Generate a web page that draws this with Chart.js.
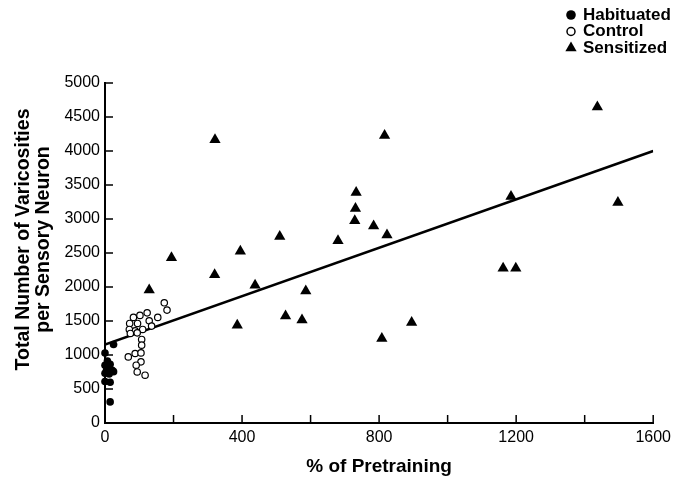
<!DOCTYPE html>
<html>
<head>
<meta charset="utf-8">
<script src="https://cdn.jsdelivr.net/npm/chart.js@4.4.0/dist/chart.umd.min.js"></script>
<style>
  body{margin:0;background:#fff;}
  #wrap{width:676px;height:478px;}
</style>
</head>
<body>
<div id="wrap"><canvas id="varChart"></canvas></div>
<script>
// ======================================
// DATA (% of pretraining vs varicosities)
// ======================================
const habitX = [0, 25, 7, 0, 15, 5, 21, 0, 12, 25, 0, 15, 15];
const habitY = [1030, 1155, 910, 850, 865, 790, 775, 730, 720, 755, 610, 600, 310];

const controlX = [173, 181, 154, 123, 102, 83, 72, 95, 129, 136, 110, 88, 71, 74, 94, 107, 107, 88, 105, 68, 105, 91, 94, 117];
const controlY = [1768, 1660, 1553, 1620, 1582, 1553, 1464, 1464, 1503, 1425, 1376, 1355, 1376, 1317, 1326, 1229, 1145, 1022, 1031, 972, 899, 850, 751, 703];

const sensX = [321, 816, 733, 731, 729, 784, 823, 680, 510, 395, 320, 438, 586, 386, 527, 575, 895, 808, 1437, 1185, 1497, 1162, 1199, 194, 129];
const sensY = [4165, 4228, 3388, 3153, 2976, 2898, 2765, 2681, 2741, 2525, 2181, 2024, 1940, 1439, 1572, 1513, 1479, 1243, 4646, 3330, 3241, 2275, 2275, 2431, 1955];

// regression line end points
const fitX = [0, 1600];
const fitY = [1155, 4000];

const xTicks = [0, 400, 800, 1200, 1600];

const FONT = "'Liberation Sans', Arial, Helvetica, sans-serif";
const TICK_LEN = 8;

function toPoints(xs, ys){
  return xs.map((v,i)=>({x:v, y:ys[i]}));
}

// ======================================
// PLUGINS
// ======================================
// tick marks pointing into the plot
const inwardTicks = {
  id:'inwardTicks',
  beforeDatasetsDraw(chart){
    const {ctx, chartArea:a, scales:{x, y}} = chart;
    ctx.save();
    ctx.strokeStyle = '#000';
    ctx.lineWidth = 1.5;
    ctx.beginPath();
    x.ticks.forEach(t=>{
      const px = x.getPixelForValue(t.value);
      ctx.moveTo(px, a.bottom);
      ctx.lineTo(px, a.bottom - TICK_LEN);
    });
    y.ticks.forEach(t=>{
      const py = y.getPixelForValue(t.value);
      ctx.moveTo(a.left, py);
      ctx.lineTo(a.left + TICK_LEN, py);
    });
    ctx.stroke();
    ctx.restore();
  }
};

// stacked legend in the top right corner
const cornerLegend = {
  id:'cornerLegend',
  afterDraw(chart){
    const ctx = chart.ctx;
    const items = chart.data.datasets.filter(d=>d.legend);
    ctx.save();
    ctx.font = 'bold 17px ' + FONT;
    ctx.textBaseline = 'middle';
    ctx.textAlign = 'left';
    items.forEach((d,i)=>{
      const cy = 15 + i*16.5;
      const cx = 571;
      ctx.fillStyle = d.backgroundColor;
      ctx.strokeStyle = d.borderColor;
      ctx.lineWidth = d.legendBorder;
      ctx.beginPath();
      if(d.pointStyle === 'triangle'){
        const r = 6.5;
        ctx.moveTo(cx, cy - r);
        ctx.lineTo(cx + r*0.866, cy + r*0.5);
        ctx.lineTo(cx - r*0.866, cy + r*0.5);
        ctx.closePath();
      } else {
        ctx.arc(cx, cy, d.legendRadius, 0, Math.PI*2);
      }
      ctx.fill();
      if(d.legendBorder) ctx.stroke();
      ctx.fillStyle = '#000';
      ctx.fillText(d.label, 583, cy);
    });
    ctx.restore();
  }
};

// ======================================
// CHART
// ======================================
const ctx = document.getElementById('varChart');

new Chart(ctx, {

  type:'scatter',

  data:{
    datasets:[
      {
        label:'Habituated',
        data:toPoints(habitX, habitY),
        pointStyle:'circle',
        pointRadius:3.8,
        backgroundColor:'#000',
        borderColor:'#000',
        borderWidth:0,
        legend:true,
        legendRadius:4.8,
        legendBorder:0,
        clip:false
      },
      {
        label:'Control',
        data:toPoints(controlX, controlY),
        pointStyle:'circle',
        pointRadius:3.2,
        backgroundColor:'#fff',
        borderColor:'#000',
        borderWidth:1.2,
        legend:true,
        legendRadius:4,
        legendBorder:1.5,
        clip:false
      },
      {
        label:'Sensitized',
        data:toPoints(sensX, sensY),
        pointStyle:'triangle',
        pointRadius:6.5,
        backgroundColor:'#000',
        borderColor:'#000',
        borderWidth:0,
        legend:true,
        clip:false
      },
      {
        type:'line',
        label:'Fit',
        data:toPoints(fitX, fitY),
        borderColor:'#000',
        borderWidth:2.5,
        pointRadius:0,
        fill:false,
        tension:0
      }
    ]
  },

  options:{
    responsive:true,
    maintainAspectRatio:false,
    animation:false,
    events:[],

    layout:{
      padding:{top:83, right:20, left:0, bottom:0}
    },

    plugins:{
      legend:{display:false},
      tooltip:{enabled:false}
    },

    scales:{
      x:{
        type:'linear',
        min:0,
        max:1600,
        afterFit(scale){ scale.height = 55; },
        ticks:{
          stepSize:200,
          color:'#000',
          padding:5,
          maxRotation:0,
          font:{family:FONT, size:16},
          callback:(v)=> xTicks.includes(v) ? String(v) : ''
        },
        grid:{display:false, drawTicks:false},
        border:{display:true, color:'#000', width:2},
        title:{
          display:true,
          text:'% of Pretraining',
          color:'#000',
          padding:{top:0, bottom:2},
          font:{family:FONT, size:19, weight:'bold', lineHeight:1}
        }
      },

      y:{
        type:'linear',
        min:0,
        max:5000,
        afterFit(scale){ scale.width = 105; },
        ticks:{
          stepSize:500,
          color:'#000',
          padding:5,
          font:{family:FONT, size:16},
          callback:(v)=> String(v)
        },
        grid:{display:false, drawTicks:false},
        border:{display:true, color:'#000', width:2},
        title:{
          display:true,
          text:['     Total Number of Varicosities', '     per Sensory Neuron'],
          color:'#000',
          padding:{top:14, bottom:0},
          font:{family:FONT, size:19.5, weight:'bold', lineHeight:1}
        }
      }
    }
  },

  plugins:[inwardTicks, cornerLegend]
});
</script>
</body>
</html>
